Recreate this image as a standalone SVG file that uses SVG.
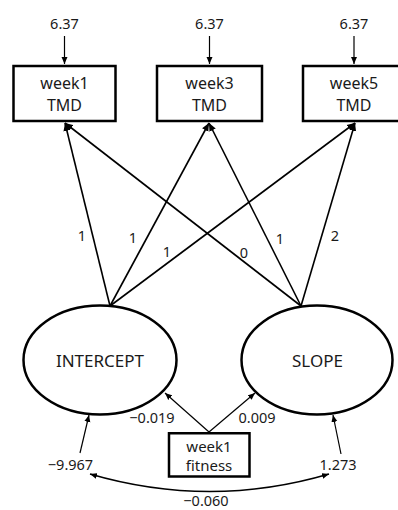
<svg xmlns="http://www.w3.org/2000/svg" width="398" height="510" viewBox="0 0 398 510">
<style>
.box{fill:#fff;stroke:#000;stroke-width:2.5}
.ell{fill:#fff;stroke:#000;stroke-width:2.5}
.t{font-family:"Noto Sans","Open Sans",sans-serif;fill:#1a1a1a;text-anchor:middle}
.bt{font-size:16px}
.ft{font-size:15px}
.lt{font-size:17px}
.nt{font-size:14.5px}
.path{fill:none;stroke:#000;stroke-width:1.6;marker-end:url(#ah)}
.thin{fill:none;stroke:#000;stroke-width:1.2;marker-end:url(#ah2)}
</style>
<defs>
<marker id="ah" markerUnits="userSpaceOnUse" markerWidth="9" markerHeight="8" refX="8" refY="4" orient="auto">
<path d="M0,0.5 L8,4 L0,7.5 Z" fill="#000"/>
</marker>
<marker id="ah2" markerUnits="userSpaceOnUse" markerWidth="8" markerHeight="7" refX="7" refY="3.5" orient="auto">
<path d="M0,0.5 L7,3.5 L0,6.5 Z" fill="#000"/>
</marker>
<marker id="ah2s" markerUnits="userSpaceOnUse" markerWidth="8" markerHeight="7" refX="7" refY="3.5" orient="auto-start-reverse">
<path d="M0,0.5 L7,3.5 L0,6.5 Z" fill="#000"/>
</marker>
</defs>
<g id="connectors">
<line class="thin" x1="64.5" y1="36" x2="64.5" y2="64"/>
<line class="thin" x1="209.5" y1="36" x2="209.5" y2="64"/>
<line class="thin" x1="354" y1="36" x2="354" y2="64"/>
<line class="path" x1="110" y1="306" x2="65" y2="123"/>
<line class="path" x1="110" y1="306" x2="209" y2="123"/>
<line class="path" x1="110" y1="306" x2="355" y2="123"/>
<line class="path" x1="301" y1="306" x2="65" y2="123"/>
<line class="path" x1="301" y1="306" x2="209" y2="123"/>
<line class="path" x1="301" y1="306" x2="355" y2="123"/>
<line class="thin" x1="209" y1="432" x2="165" y2="393"/>
<line class="thin" x1="209" y1="432" x2="255" y2="393"/>
<line class="thin" x1="80" y1="453" x2="89" y2="415"/>
<line class="thin" x1="341" y1="454" x2="333" y2="415"/>
<path d="M90,474 Q210,509 329,474" fill="none" stroke="#000" stroke-width="1.6" marker-start="url(#ah2s)" marker-end="url(#ah2s)"/>
<text class="t nt" x="82" y="241">1</text>
<text class="t nt" x="133" y="243">1</text>
<text class="t nt" x="167" y="256.5">1</text>
<text class="t nt" x="244" y="257.5">0</text>
<text class="t nt" x="280" y="244">1</text>
<text class="t nt" x="335" y="240.5">2</text>
<text class="t nt" x="152" y="423">−0.019</text>
<text class="t nt" x="257" y="423">0.009</text>
<text class="t nt" x="70.5" y="470">−9.967</text>
<text class="t nt" x="338" y="470">1.273</text>
<text class="t nt" x="206" y="506">−0.060</text>
<text class="t nt" x="64.5" y="29">6.37</text>
<text class="t nt" x="209.5" y="29">6.37</text>
<text class="t nt" x="354" y="29">6.37</text>
</g>
<g id="week1TMD">
<rect class="box" x="13.5" y="66" width="102" height="55"/>
<text class="t bt" x="64.5" y="89">week1</text>
<text class="t bt" x="64.5" y="111">TMD</text>
</g>
<g id="week3TMD">
<rect class="box" x="157" y="66" width="105" height="55"/>
<text class="t bt" x="209.5" y="89">week3</text>
<text class="t bt" x="209.5" y="111">TMD</text>
</g>
<g id="week5TMD">
<rect class="box" x="303" y="66" width="102" height="55"/>
<text class="t bt" x="354" y="89">week5</text>
<text class="t bt" x="354" y="111">TMD</text>
</g>
<g id="intercept">
<ellipse class="ell" cx="100" cy="360" rx="76.5" ry="54.5"/>
<text class="t lt" x="100" y="367">INTERCEPT</text>
</g>
<g id="slope">
<ellipse class="ell" cx="317" cy="360" rx="75.5" ry="54.5"/>
<text class="t lt" x="317.5" y="367">SLOPE</text>
</g>
<g id="week1fitness">
<rect class="box" x="169" y="433.25" width="80.5" height="43.25"/>
<text class="t ft" x="209" y="451.5">week1</text>
<text class="t ft" x="209" y="471">fitness</text>
</g>
</svg>
